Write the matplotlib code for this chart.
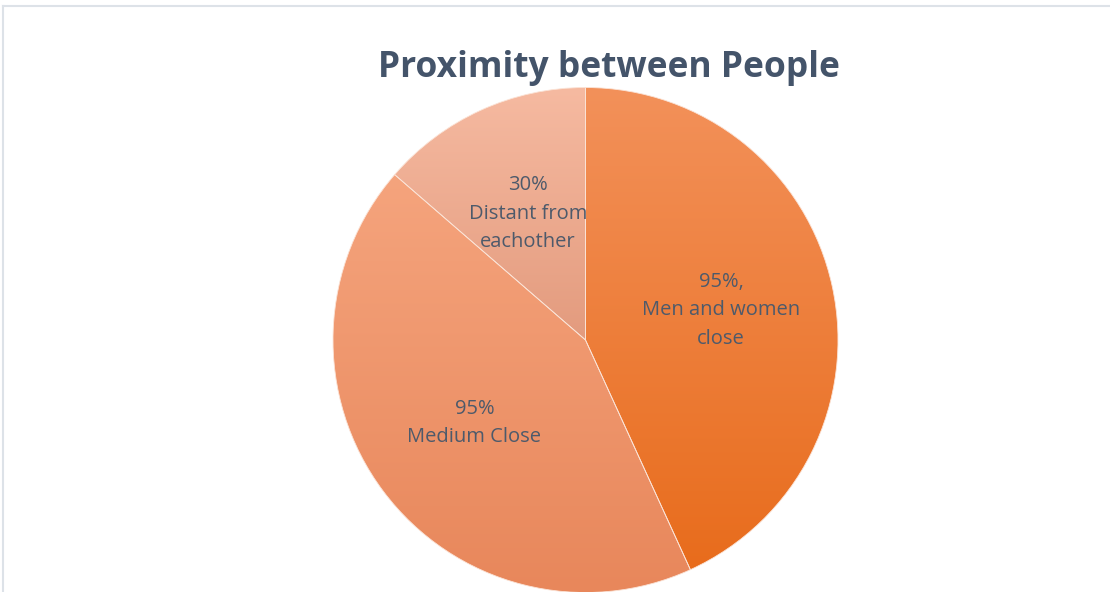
import matplotlib
matplotlib.use('Agg')
import matplotlib.pyplot as plt
import numpy as np
from matplotlib.colors import LinearSegmentedColormap

# slice data
categories = ['Men and women close', 'Medium Close', 'Distant from eachother']
values = [95, 95, 30]
labels = ['95%,\nMen and women\nclose', '95%\nMedium Close', '30%\nDistant from\neachother']
# top / bottom colour of each slice gradient
grad_top = ['#F3915A', '#F5A47D', '#F6BAA1']
grad_bot = ['#E86C1C', '#E8875B', '#E39B7E']

W, H = 1110, 592
fig = plt.figure(figsize=(W / 100, H / 100), dpi=100)
ax = fig.add_axes([0, 0, 1, 1])

cx, cy, R = 585.5, H - 340, 252.5
wedges, _ = ax.pie(values, center=(cx, cy), radius=R, startangle=90,
                   counterclock=False,
                   wedgeprops=dict(edgecolor='#FBE3D6', linewidth=0.6))
ax.set_xlim(0, W)
ax.set_ylim(0, H)
ax.set_aspect('equal')
ax.axis('off')

fig.canvas.draw()
inv = ax.transData.inverted()
for i, w in enumerate(wedges):
    bb = w.get_window_extent().transformed(inv)
    cmap = LinearSegmentedColormap.from_list(f'g{i}', [grad_bot[i], grad_top[i]])
    grad = np.linspace(0, 1, 256).reshape(-1, 1)
    w.set_facecolor('none')
    im = ax.imshow(grad, cmap=cmap, origin='lower', aspect='auto',
                   extent=[bb.x0, bb.x1, bb.y0, bb.y1], zorder=1)
    im.set_clip_path(w)
    w.set_zorder(2)

    # label at about half radius along the slice bisector
    mid = np.deg2rad((w.theta1 + w.theta2) / 2)
    ax.text(cx + 0.55 * R * np.cos(mid), cy + 0.55 * R * np.sin(mid), labels[i],
            ha='center', va='center', fontsize=14.5, color='#4D5A6B',
            family='Open Sans', linespacing=1.55, zorder=3)
ax.set_xlim(0, W)
ax.set_ylim(0, H)

ax.text(609, H - 68, 'Proximity between People', ha='center', va='center',
        fontsize=25.5, fontweight='bold', color='#44546A', family='Open Sans')

# frame lines on top and left
ax.plot([3, W], [H - 6, H - 6], color='#DDE2E8', lw=1.5, zorder=4)
ax.plot([3, 3], [0, H - 6], color='#DDE2E8', lw=1.5, zorder=4)

fig.savefig('out.png', dpi=100)
